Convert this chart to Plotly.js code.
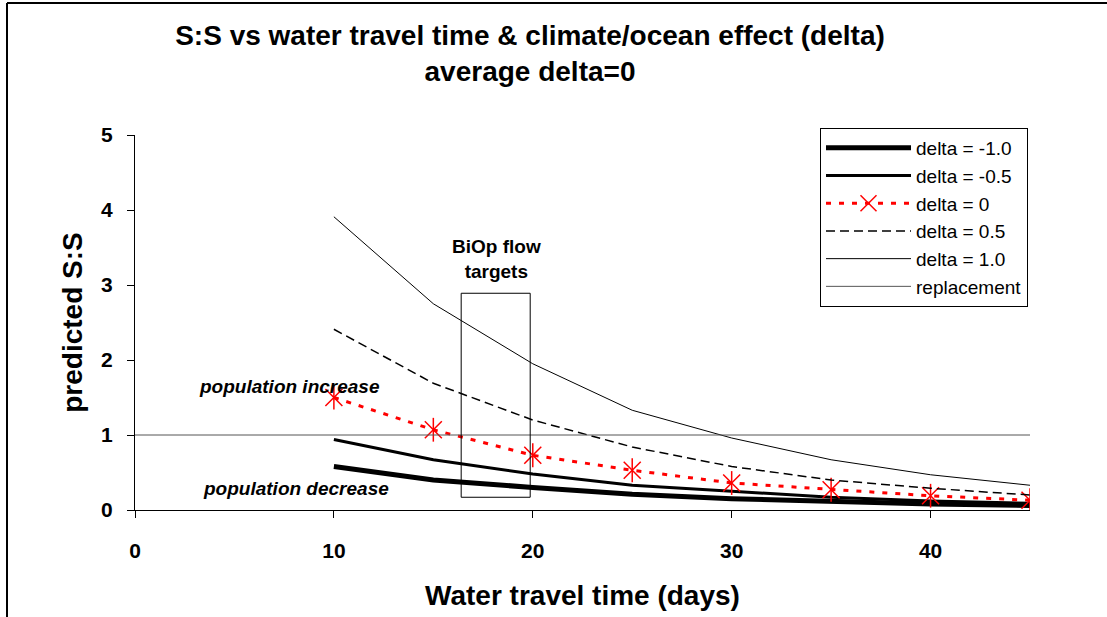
<!DOCTYPE html>
<html>
<head>
<meta charset="utf-8">
<script src="https://cdn.plot.ly/plotly-3.0.1.min.js"></script>
<style>html,body{margin:0;padding:0;background:#fff;}#chart{width:1107px;height:617px;}</style>
</head>
<body>
<div id="chart"></div>
<script>
// Water travel time (days)
const travelDays = [10, 15, 20, 25, 30, 35, 40, 45];
// predicted S:S by delta
const deltaMinus10 = [0.58, 0.40, 0.30, 0.21, 0.15, 0.11, 0.08, 0.06];
const deltaMinus05 = [0.94, 0.67, 0.48, 0.33, 0.25, 0.17, 0.12, 0.09];
const delta0 = [1.50, 1.07, 0.73, 0.53, 0.36, 0.27, 0.19, 0.13];
const delta05 = [2.41, 1.69, 1.20, 0.84, 0.58, 0.40, 0.29, 0.20];
const delta10 = [3.91, 2.75, 1.95, 1.33, 0.96, 0.67, 0.47, 0.33];
const replacementX = [0, 45];
const replacementY = [1, 1];
const seriesNames = ['delta = -1.0', 'delta = -0.5', 'delta = 0', 'delta = 0.5', 'delta = 1.0', 'replacement'];
const biopBox = {x0: 16.4, x1: 19.87, y0: 0.17, y1: 2.89};

const FONT = 'Liberation Sans, Arial, sans-serif';
const W = 1107, H = 617, ML = 135, MR = 77, MT = 135, MB = 107;
const PW = W - ML - MR, PH = H - MT - MB;
const px2x = p => (p - ML) / PW;
const py2y = p => (H - MB - p) / PH;

const traces = [
  {x: travelDays, y: deltaMinus10, name: seriesNames[0], mode: 'lines', line: {color: '#000', width: 5}, legendgroup: 'a'},
  {x: travelDays, y: deltaMinus05, name: seriesNames[1], mode: 'lines', line: {color: '#000', width: 3}, legendgroup: 'b'},
  {x: travelDays, y: delta0, name: seriesNames[2], mode: 'lines+markers', line: {color: '#ff0000', width: 3, dash: '5px,8px'},
   marker: {symbol: 'x-thin-open', size: 17, color: '#ff0000', line: {color: '#ff0000', width: 1.5}}, legendgroup: 'c'},
  {x: travelDays, y: delta0, name: seriesNames[2], mode: 'markers', showlegend: false,
   marker: {symbol: 'line-ns-open', size: 17, color: '#ff0000', line: {color: '#ff0000', width: 1.5}}, legendgroup: 'c'},
  {x: travelDays, y: delta05, name: seriesNames[3], mode: 'lines', line: {color: '#000', width: 1.5, dash: '9px,5px'}, legendgroup: 'd'},
  {x: travelDays, y: delta10, name: seriesNames[4], mode: 'lines', line: {color: '#000', width: 1}, legendgroup: 'e'},
  {x: replacementX, y: replacementY, name: seriesNames[5], mode: 'lines', line: {color: '#555', width: 1}, legendgroup: 'f'}
];

const layout = {
  width: W, height: H,
  margin: {l: ML, r: MR, t: MT, b: MB, pad: 0},
  paper_bgcolor: '#fff', plot_bgcolor: '#fff',
  font: {family: FONT, color: '#000'},
  title: {text: '<b>S:S vs water travel time & climate/ocean effect (delta)<br>average delta=0</b>',
    font: {family: FONT, size: 28, color: '#000'}, x: 530 / W, xanchor: 'center', xref: 'container',
    y: 1 - 45 / H, yanchor: 'top', yref: 'container'},
  xaxis: {range: [0, 45], dtick: 10, tick0: 0, ticks: 'outside', ticklen: 7, tickcolor: '#000', tickwidth: 1,
    showline: true, linecolor: '#000', linewidth: 1, showgrid: false, zeroline: false,
    tickfont: {family: FONT, size: 21, color: '#000', weight: 'bold'}, ticklabelstandoff: 15,
    title: {text: '<b>Water travel time (days)</b>', font: {family: FONT, size: 28, color: '#000'}, standoff: 24}},
  yaxis: {range: [0, 5], dtick: 1, tick0: 0, ticks: 'outside', ticklen: 7, tickcolor: '#000', tickwidth: 1,
    showline: true, linecolor: '#000', linewidth: 1, showgrid: false, zeroline: false,
    tickfont: {family: FONT, size: 21, color: '#000', weight: 'bold'}, ticklabelstandoff: 10,
    title: {text: '<b>predicted S:S</b>', font: {family: FONT, size: 28, color: '#000'}, standoff: 10}},
  showlegend: true,
  legend: {x: px2x(820), y: py2y(128), xanchor: 'left', yanchor: 'top', bordercolor: '#000', borderwidth: 1,
    bgcolor: '#fff', font: {family: FONT, size: 19, color: '#000'}, tracegroupgap: 3, itemwidth: 85,
    traceorder: 'normal'},
  shapes: [
    {type: 'rect', xref: 'x', yref: 'y', x0: biopBox.x0, x1: biopBox.x1, y0: biopBox.y0, y1: biopBox.y1,
      line: {color: '#000', width: 1}, fillcolor: 'rgba(0,0,0,0)'},
    {type: 'line', xref: 'paper', yref: 'paper', x0: px2x(7), x1: px2x(7), y0: py2y(617), y1: py2y(3), line: {color: '#000', width: 2}},
    {type: 'line', xref: 'paper', yref: 'paper', x0: px2x(7), x1: px2x(1107), y0: py2y(3), y1: py2y(3), line: {color: '#000', width: 2}}
  ],
  annotations: [
    {text: '<b>BiOp flow<br>targets</b>', x: 18.2, y: 3.35, xref: 'x', yref: 'y', showarrow: false,
      font: {family: FONT, size: 19, color: '#000'}},
    {text: '<b><i>population increase</i></b>', x: 7.77, y: 1.65, xref: 'x', yref: 'y', showarrow: false,
      font: {family: FONT, size: 19, color: '#000'}},
    {text: '<b><i>population decrease</i></b>', x: 8.1, y: 0.29, xref: 'x', yref: 'y', showarrow: false,
      font: {family: FONT, size: 19, color: '#000'}}
  ]
};

Plotly.newPlot('chart', traces, layout, {displayModeBar: false, staticPlot: true});
</script>
</body>
</html>
